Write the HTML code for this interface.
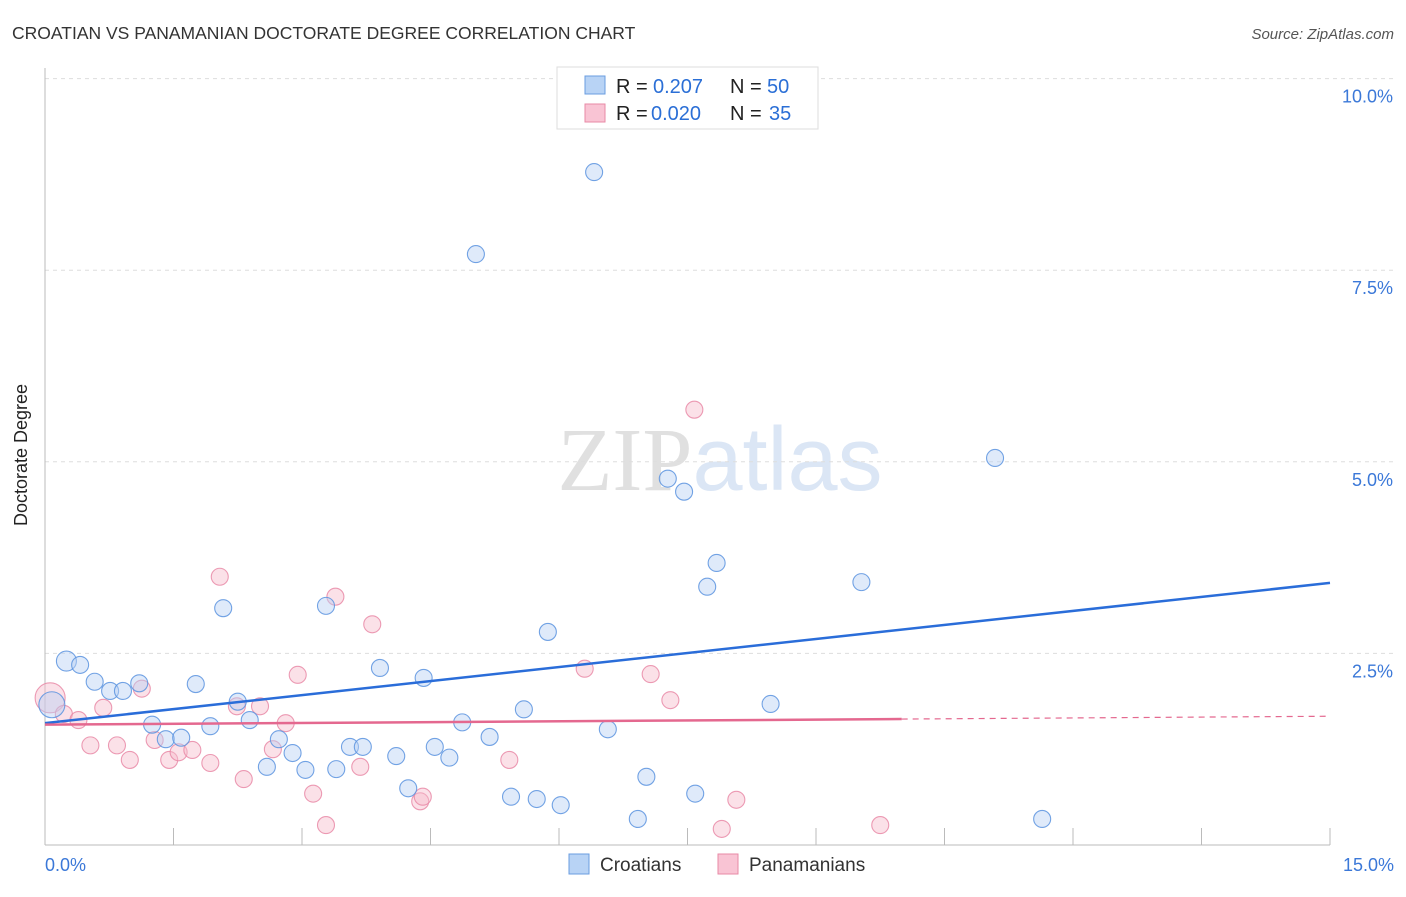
<!DOCTYPE html>
<html><head><meta charset="utf-8"><style>
body{margin:0;background:#fff;font-family:"Liberation Sans",sans-serif}
svg text{font-family:"Liberation Sans",sans-serif}
</style></head><body>
<svg width="1406" height="892" xmlns="http://www.w3.org/2000/svg">
<text x="12" y="39" font-size="17.5" fill="#333">CROATIAN VS PANAMANIAN DOCTORATE DEGREE CORRELATION CHART</text>
<text x="1394" y="39" font-size="15" fill="#555" font-style="italic" text-anchor="end">Source: ZipAtlas.com</text>
<text x="720" y="490" font-size="90" fill="#e4e4e4" text-anchor="middle" font-family="Liberation Serif"><tspan fill="#e0e0e0" font-family="Liberation Serif">ZIP</tspan><tspan fill="#dbe6f5" font-family="Liberation Sans">atlas</tspan></text>
<g id="grid"></g>
<g id="axes"></g>
<g id="marks"></g>
<text x="27" y="455" font-size="18" fill="#222" text-anchor="middle" transform="rotate(-90 27 455)">Doctorate Degree</text>
<g>
<rect x="557" y="67" width="261" height="62" fill="#fff" stroke="#ddd"/>
<rect x="585" y="76" width="20" height="18" fill="#b8d3f5" stroke="#6a9de0"/>
<rect x="585" y="104" width="20" height="18" fill="#f9c4d4" stroke="#e88aa6"/>
<text x="616" y="93" font-size="20" fill="#222">R =</text>
<text x="653" y="93" font-size="20" fill="#2b6fd6">0.207</text>
<text x="730" y="93" font-size="20" fill="#222">N =</text>
<text x="767" y="93" font-size="20" fill="#2b6fd6">50</text>
<text x="616" y="120" font-size="20" fill="#222">R =</text>
<text x="651" y="120" font-size="20" fill="#2b6fd6">0.020</text>
<text x="730" y="120" font-size="20" fill="#222">N =</text>
<text x="769" y="120" font-size="20" fill="#2b6fd6">35</text>
</g>
<g>
<rect x="569" y="854" width="20" height="20" fill="#b8d3f5" stroke="#6a9de0"/>
<text x="600" y="871" font-size="19" fill="#333">Croatians</text>
<rect x="718" y="854" width="20" height="20" fill="#f9c4d4" stroke="#e88aa6"/>
<text x="749" y="871" font-size="19" fill="#333">Panamanians</text>
</g>
</svg>
<script>
const xTickLabels=["0.0%","15.0%"];
const yTicks=[2.5,5.0,7.5,10.0];
const yTickLabels=["2.5%","5.0%","7.5%","10.0%"];
const croX=[0.08,0.25,0.41,0.58,0.76,0.91,1.10,1.25,1.41,1.59,1.76,1.93,2.08,2.25,2.39,2.59,2.73,2.89,3.04,3.28,3.40,3.56,3.71,3.91,4.10,4.24,4.42,4.55,4.72,4.87,5.03,5.19,5.44,5.59,5.74,5.87,6.02,6.41,6.57,6.92,7.02,7.27,7.46,7.59,7.73,7.84,8.47,9.53,11.09,11.64];
const croY=[1.83,2.40,2.35,2.13,2.01,2.01,2.11,1.57,1.38,1.40,2.10,1.55,3.09,1.87,1.63,1.02,1.38,1.20,0.98,3.12,0.99,1.28,1.28,2.31,1.16,0.74,2.18,1.28,1.14,1.60,7.71,1.41,0.63,1.77,0.60,2.78,0.52,8.78,1.51,0.34,0.89,4.78,4.61,0.67,3.37,3.68,1.84,3.43,5.05,0.34];
const panX=[0.06,0.22,0.39,0.53,0.68,0.84,0.99,1.13,1.28,1.45,1.56,1.72,1.93,2.04,2.24,2.32,2.51,2.66,2.81,2.95,3.13,3.28,3.39,3.68,3.82,4.38,4.41,5.42,6.30,7.07,7.30,7.58,7.90,8.07,9.75];
const panY=[1.92,1.71,1.63,1.30,1.79,1.30,1.11,2.04,1.37,1.11,1.21,1.24,1.07,3.50,1.81,0.86,1.81,1.25,1.59,2.22,0.67,0.26,3.24,1.02,2.88,0.57,0.63,1.11,2.30,2.23,1.89,5.68,0.21,0.59,0.26];
const croTrend=[1.59,3.42];
const panTrend=[1.57,1.68];
const panTrendSolidEnd=10.0;
const X0=45,X1=1330,Y0=845,PXPER=76.64;
const sx=v=>X0+(v/15)*(X1-X0);
const sy=v=>Y0-v*PXPER;
const NS="http://www.w3.org/2000/svg";
function mk(tag,attrs,parent){const e=document.createElementNS(NS,tag);for(const k in attrs)e.setAttribute(k,attrs[k]);parent.appendChild(e);return e;}
const grid=document.getElementById('grid'),axes=document.getElementById('axes'),marks=document.getElementById('marks');
yTicks.forEach((t,i)=>{
 const g=mk('line',{x1:X0,x2:1395,y1:sy(t),y2:sy(t),stroke:'#ddd','stroke-dasharray':'4 4'},grid);
 
 
 const l=mk('text',{x:1393,y:sy(t)+24,'font-size':18,fill:'#3b78d8','text-anchor':'end'},grid);
 l.textContent=yTickLabels[i];
 
 
});
const ax=mk('line',{x1:X0,x2:X0,y1:68,y2:Y0,stroke:'#bbb'},axes);


const bx=mk('line',{x1:X0,x2:X1,y1:Y0,y2:Y0,stroke:'#bbb'},axes);


for(let i=0;i<=10;i++){
 const v=i*1.5;
 const t=mk('line',{x1:sx(v),x2:sx(v),y1:828,y2:Y0,stroke:'#bbb'},axes);
 
 
}
[[0,'start',45],[15,'end',1394]].forEach((p,i)=>{
 const l=mk('text',{x:p[2],y:871,'font-size':18,fill:'#3b78d8','text-anchor':p[1]},axes);
 l.textContent=xTickLabels[i];
 
 
});
function pts(xs,ys,fill,stroke,name,big){
 xs.forEach((x,i)=>{
  const r=big[i]||8.5;
  const c=mk('circle',{cx:sx(x),cy:sy(ys[i]),r:r,fill:fill,'fill-opacity':0.45,stroke:stroke,'stroke-width':1.1,'stroke-opacity':0.85},marks);
  
  
 });
}
pts(panX,panY,'#f7bccd','#e98aa7','point-panamanian',{0:15});
pts(croX,croY,'#b7d1f3','#5b93df','point-croatian',{0:13,1:10});
const tl=mk('line',{x1:sx(0),y1:sy(croTrend[0]),x2:sx(15),y2:sy(croTrend[1]),stroke:'#2a6dd9','stroke-width':2.5},marks);


const pm=v=>panTrend[0]+(panTrend[1]-panTrend[0])*v/15;
const tp=mk('line',{x1:sx(0),y1:sy(pm(0)),x2:sx(panTrendSolidEnd),y2:sy(pm(panTrendSolidEnd)),stroke:'#e4688f','stroke-width':2.5},marks);


const td=mk('line',{x1:sx(panTrendSolidEnd),y1:sy(pm(panTrendSolidEnd)),x2:sx(15),y2:sy(pm(15)),stroke:'#e4688f','stroke-width':1.2,'stroke-dasharray':'6 5'},marks);


</script>
</body></html>
